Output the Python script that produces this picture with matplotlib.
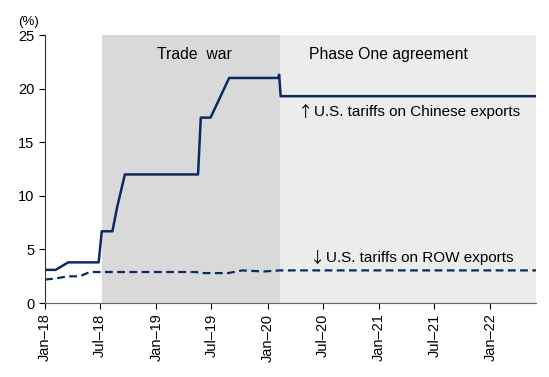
import pandas as pd
import matplotlib
matplotlib.use('Agg')
import matplotlib.pyplot as plt

plt.rcParams['font.family'] = ['Liberation Sans', 'DejaVu Sans']

# US tariffs on Chinese exports (%)
china_dates = ['2018-01-01', '2018-02-05', '2018-03-18', '2018-06-26', '2018-07-06',
               '2018-08-10', '2018-08-26', '2018-09-20', '2019-05-18', '2019-05-27',
               '2019-06-28', '2019-08-28', '2020-02-05', '2020-02-08', '2020-02-13',
               '2022-06-30']
china_vals = [3.1, 3.1, 3.8, 3.8, 6.7, 6.7, 9.0, 12.0, 12.0, 17.3, 17.3, 21.0, 21.0, 21.3, 19.3, 19.3]

# US tariffs on rest-of-world exports (%)
row_dates = ['2018-01-01', '2018-02-05', '2018-03-18', '2018-04-25', '2018-05-28',
             '2019-05-12', '2019-05-25', '2019-08-25', '2019-10-10', '2019-12-20',
             '2020-02-10', '2022-06-30']
row_vals = [2.2, 2.3, 2.5, 2.5, 2.9, 2.9, 2.8, 2.8, 3.05, 2.95, 3.05, 3.05]

trade_war = ('2018-07-06', '2020-02-10')
phase_one = ('2020-02-10', '2022-05-30')

china_dates = pd.to_datetime(china_dates)
row_dates = pd.to_datetime(row_dates)

navy = '#0b2a62'

fig = plt.figure(figsize=(5.49, 3.77), dpi=100)
ax = fig.add_axes([0.082, 0.196, 0.894, 0.711])

ax.axvspan(pd.Timestamp(trade_war[0]), pd.Timestamp(trade_war[1]), color='#d9d9d9', lw=0)
ax.axvspan(pd.Timestamp(phase_one[0]), pd.Timestamp(phase_one[1]), color='#ececec', lw=0)

ax.plot(china_dates, china_vals, color=navy, lw=1.8)
ax.plot(row_dates, row_vals, color=navy, lw=1.6, ls=(0, (3.5, 2)))

ax.set_xlim(pd.Timestamp('2018-01-01'), pd.Timestamp('2022-05-30'))
ax.set_ylim(0, 25)
ax.set_yticks(range(0, 26, 5))

ticks = pd.date_range('2018-01-01', '2022-01-01', freq='6MS')
ax.set_xticks(ticks)
ax.set_xticklabels([d.strftime('%b') + '–' + d.strftime('%y') for d in ticks],
                   rotation=90, fontsize=10.5)
ax.tick_params(axis='y', labelsize=10.5, length=4, direction='out')
ax.tick_params(axis='x', length=4, direction='out')

for s in ['top', 'right']:
    ax.spines[s].set_visible(False)
ax.spines['left'].set_color('#333333')
ax.spines['bottom'].set_color('#666666')

ax.text(pd.Timestamp('2019-01-03'), 23.2, 'Trade  war', fontsize=11.3, va='center')
ax.text(pd.Timestamp('2020-05-15'), 23.2, 'Phase One agreement', fontsize=11.3, va='center')

cjk = ['Noto Sans CJK JP', 'DejaVu Sans']
ax.text(pd.Timestamp('2020-04-10'), 17.8, '↑', fontsize=11, va='center', family=cjk)
ax.text(pd.Timestamp('2020-06-02'), 17.8, 'U.S. tariffs on Chinese exports', fontsize=11, va='center')
ax.text(pd.Timestamp('2020-05-20'), 4.2, '↓', fontsize=11, va='center', family=cjk)
ax.text(pd.Timestamp('2020-07-12'), 4.2, 'U.S. tariffs on ROW exports', fontsize=11, va='center')

fig.text(0.033, 0.935, '(%)', fontsize=9.5)

plt.savefig('out.png', dpi=100)
